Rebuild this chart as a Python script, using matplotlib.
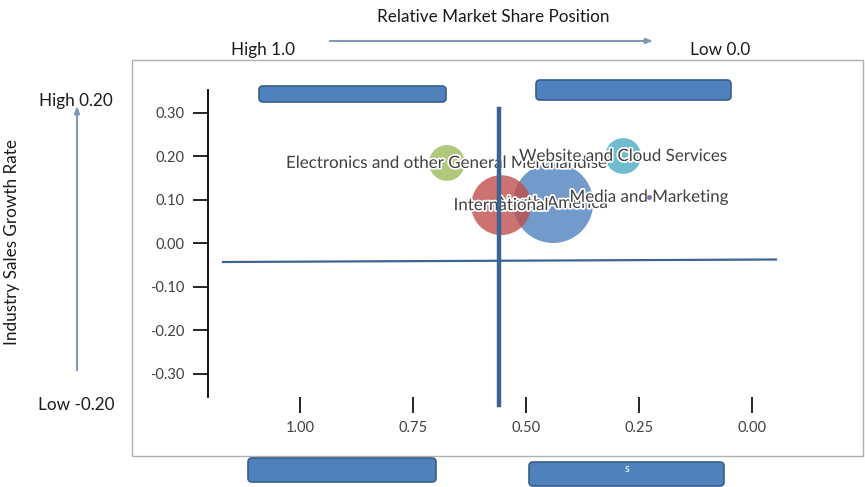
import matplotlib
matplotlib.use("Agg")
import matplotlib.pyplot as plt
from matplotlib.patches import FancyBboxPatch, Rectangle
from matplotlib.lines import Line2D
from matplotlib.transforms import Affine2D
import matplotlib.patheffects as pe

# ---- data ----
segments = ["North America", "International", "Electronics and other General Merchandise",
            "Website and Cloud Services", "Media and Marketing"]
market_share = [0.44, 0.555, 0.675, 0.285, 0.228]
growth_rate = [0.092, 0.087, 0.184, 0.200, 0.106]
bubble_size = [100, 56, 20, 20, 0.15]
colors = ["#4f81bd", "#c0504d", "#9bbb59", "#4bacc6", "#8064a2"]
x_ticks = [1.00, 0.75, 0.50, 0.25, 0.00]
y_ticks = [0.30, 0.20, 0.10, 0.00, -0.10, -0.20, -0.30]

W, H, DPI = 865, 487, 100
fig = plt.figure(figsize=(W / DPI, H / DPI), dpi=DPI)
plt.rcParams['font.family'] = ['Lato', 'DejaVu Sans']

# pixel transform (origin top-left)
pxT = Affine2D().scale(1, -1).translate(0, H) + Affine2D().scale(1 / DPI) + fig.dpi_scale_trans

# outer frame
fig.patches.append(Rectangle((132, 60), 731, 396, transform=pxT, fill=False,
                             edgecolor="#b0b0b0", lw=1.0, zorder=0))

# axes
ax_l, ax_r, ax_t, ax_b = 208, 800, 90, 397
ax = fig.add_axes([ax_l / W, 1 - ax_b / H, (ax_r - ax_l) / W, (ax_b - ax_t) / H])
ax.set_facecolor("none")
ax.set_xlim(1 + (300 - ax_l) / 452, 1 - (ax_r - 300) / 452)
ax.set_ylim((243 - ax_b) / 435, (243 - ax_t) / 435)
for s in ["top", "right", "bottom"]:
    ax.spines[s].set_visible(False)
ax.spines["left"].set_color("black")
ax.spines["left"].set_linewidth(1.3)
ax.set_xticks(x_ticks)
ax.set_xticklabels([f"{v:.2f}" for v in x_ticks])
ax.set_yticks(y_ticks)
ax.set_yticklabels([f"{v:.2f}" for v in y_ticks])
ax.tick_params(axis="x", length=11.5, width=1.2, color="black", pad=6,
               labelsize=10.5, labelcolor="#404040")
ax.tick_params(axis="y", length=10.8, width=1.2, color="black", pad=6,
               labelsize=10.5, labelcolor="#404040")

# bubbles
scale = 33.2
sizes = [b * scale for b in bubble_size]
ax.scatter(market_share[:4], growth_rate[:4], s=sizes[:4], c=colors[:4],
           alpha=0.8, edgecolors="none", zorder=2, clip_on=False)
for name, x, y in zip(segments, market_share, growth_rate):
    ax.text(x, y, name, ha="center", va="center", fontsize=12.2, color="#404040", zorder=3,
            path_effects=[pe.withStroke(linewidth=2.5, foreground="white")])
ax.scatter(market_share[4:], growth_rate[4:], s=sizes[4:], c=colors[4:],
           alpha=0.8, edgecolors=colors[4:], linewidths=1.5, zorder=4, clip_on=False)

# quadrant lines
line_c = "#3a6396"
fig.lines.append(Line2D([223, 776], [262, 259.5], transform=pxT, color=line_c, lw=1.6, zorder=5))
fig.lines.append(Line2D([499, 499], [109, 405], transform=pxT, color=line_c, lw=3.2, zorder=5))

# rounded boxes
def rbox(x0, y0, x1, y1):
    fig.patches.append(FancyBboxPatch((x0, y0), x1 - x0, y1 - y0,
                                      boxstyle="round,pad=0,rounding_size=4",
                                      transform=pxT, facecolor="#4f81bd",
                                      edgecolor="#385d8a", lw=1.2, zorder=4))

rbox(259, 86, 446, 102)
rbox(536, 80, 731, 100)
rbox(248, 458, 436, 482)
rbox(529, 462, 724, 486)
fig.text(316 / W, 1 - 451 / H, "Cash Cows", color="white", fontsize=10, ha="center",
         va="center", zorder=1)
fig.text(627 / W, 1 - 468 / H, "s", color="white", fontsize=8, ha="center",
         va="center", zorder=6)

# annotations
tc = "#1a1a1a"
fig.text(493 / W, 1 - 17 / H, "Relative Market Share Position", fontsize=12.3,
         ha="center", va="center", color=tc)
fig.text(263 / W, 1 - 50 / H, "High 1.0", fontsize=12.3, ha="center", va="center", color=tc)
fig.text(720 / W, 1 - 50 / H, "Low 0.0", fontsize=12.3, ha="center", va="center", color=tc)
fig.text(76 / W, 1 - 101 / H, "High 0.20", fontsize=12.3, ha="center", va="center", color=tc)
fig.text(76 / W, 1 - 405 / H, "Low -0.20", fontsize=12.3, ha="center", va="center", color=tc)
fig.text(12 / W, 1 - 242 / H, "Industry Sales Growth Rate", fontsize=12.3, rotation=90,
         ha="center", va="center", color=tc)

arrow_c = "#7f97b5"
ax.annotate("", xy=(656, 41), xytext=(327, 41), xycoords=pxT, textcoords=pxT,
            arrowprops=dict(arrowstyle="-|>,head_length=0.4,head_width=0.15", color=arrow_c, lw=1.5))
ax.annotate("", xy=(77, 103), xytext=(77, 373), xycoords=pxT, textcoords=pxT,
            arrowprops=dict(arrowstyle="-|>,head_length=0.4,head_width=0.15", color=arrow_c, lw=1.5))

fig.savefig("out.png", dpi=DPI)
